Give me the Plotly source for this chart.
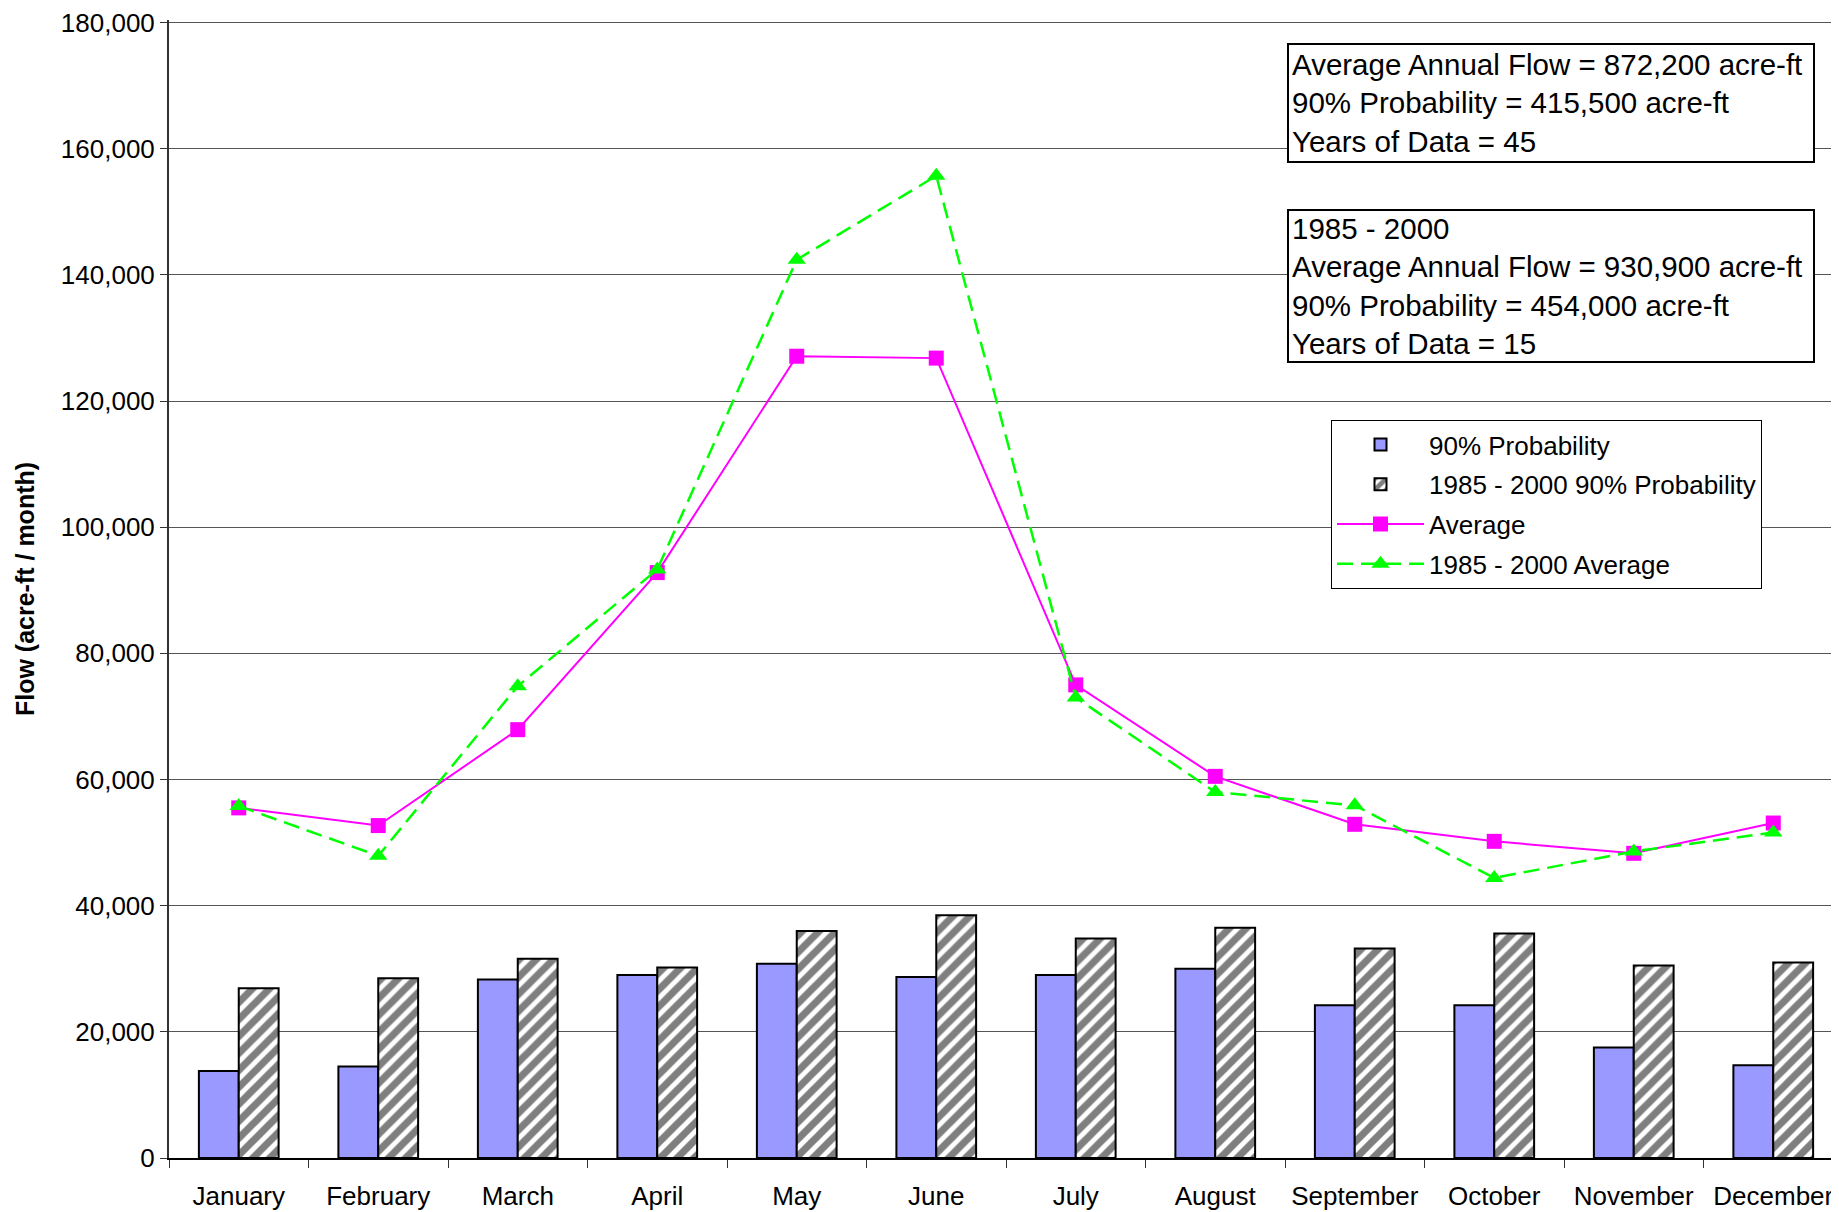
import plotly.graph_objects as go

months = ["January", "February", "March", "April", "May", "June", "July",
          "August", "September", "October", "November", "December"]
prob90 = [13800, 14500, 28300, 29000, 30800, 28700, 29000, 30000, 24200, 24200, 17500, 14700]
prob90_1985_2000 = [26900, 28500, 31600, 30200, 36000, 38500, 34800, 36500, 33200, 35600, 30500, 31000]
average = [55500, 52700, 67900, 92800, 127100, 126800, 75000, 60500, 52900, 50200, 48300, 53100]
average_1985_2000 = [55800, 47900, 74800, 93300, 142400, 155700, 73000, 58000, 55900, 44400, 48600, 51600]
y_ticks = [0, 20000, 40000, 60000, 80000, 100000, 120000, 140000, 160000, 180000]

box1_lines = ["Average Annual Flow = 872,200 acre-ft",
              "90% Probability = 415,500 acre-ft",
              "Years of Data = 45"]
box2_lines = ["1985 - 2000",
              "Average Annual Flow = 930,900 acre-ft",
              "90% Probability = 454,000 acre-ft",
              "Years of Data = 15"]

FONT = "Liberation Sans, Arial, sans-serif"
OFF = 8  # page offset of the figure (body margin)
W, H = 1839 - OFF, 1212 - OFF
ML, MR, MT, MB = 161, 0, 12, 54
PW = W - ML - MR
PH = H - MT - MB
CAT_W = 139.5
Y_MAX = 180400  # a hair above the top tick so its gridline is kept

def px_x(x):
    return (x - OFF - ML) / PW

def px_y(y):
    return (H - MB - (y - OFF)) / PH

fig = go.Figure()
fig.add_trace(go.Bar(
    x=months, y=prob90, name="90% Probability", legendgroup="a",
    marker=dict(color="#9999FF", line=dict(color="black", width=2)),
))
fig.add_trace(go.Bar(
    x=months, y=prob90_1985_2000, name="1985 - 2000 90% Probability", legendgroup="b",
    marker=dict(color="white", line=dict(color="black", width=2),
                pattern=dict(shape="/", fgcolor="black", bgcolor="white",
                             size=12, solidity=0.6)),
))
fig.add_trace(go.Scatter(
    x=months, y=average, name="Average", mode="lines+markers", legendgroup="c",
    line=dict(color="#FF00FF", width=2),
    marker=dict(symbol="square", size=15, color="#FF00FF"),
))
fig.add_trace(go.Scatter(
    x=months, y=average_1985_2000, name="1985 - 2000 Average", mode="lines+markers",
    legendgroup="d",
    line=dict(color="#00FF00", width=2.5, dash="16px,8px"),
    marker=dict(symbol="triangle-up", size=16, color="#00FF00"),
))

fig.add_annotation(
    text="<br>".join(box1_lines), xref="paper", yref="paper",
    x=px_x(1287), y=px_y(43), xanchor="left", yanchor="top",
    showarrow=False, align="left", width=518, height=110, valign="middle",
    bgcolor="white", bordercolor="black", borderwidth=2, borderpad=3,
    font=dict(family=FONT, size=29.5, color="black"),
)
fig.add_annotation(
    text="<br>".join(box2_lines), xref="paper", yref="paper",
    x=px_x(1287), y=px_y(209), xanchor="left", yanchor="top",
    showarrow=False, align="left", width=518, height=144, valign="middle",
    bgcolor="white", bordercolor="black", borderwidth=2, borderpad=3,
    font=dict(family=FONT, size=29.5, color="black"),
)

fig.update_layout(
    width=W, height=H,
    margin=dict(l=ML, r=MR, t=MT, b=MB, autoexpand=False),
    paper_bgcolor="white", plot_bgcolor="white",
    font=dict(family=FONT, size=26, color="black"),
    barmode="group", bargap=0.4286, bargroupgap=0,
    showlegend=True,
    legend=dict(
        x=px_x(1331), y=px_y(420), xanchor="left", yanchor="top",
        bgcolor="white", bordercolor="black", borderwidth=1,
        font=dict(family=FONT, size=26, color="black"),
        traceorder="grouped", tracegroupgap=3, itemwidth=87,
    ),
    xaxis=dict(
        type="category", range=[-0.5, -0.5 + PW / CAT_W],
        showgrid=False, showline=True, linecolor="black", linewidth=2,
        ticks="outside", tickson="boundaries", ticklen=8, tickcolor="#333333",
        tickwidth=1, ticklabelstandoff=14, automargin=False,
        tickfont=dict(family=FONT, size=26, color="black"),
    ),
    yaxis=dict(
        range=[0, Y_MAX], tickmode="array", tickvals=y_ticks,
        ticktext=[f"{v:,}" for v in y_ticks],
        showgrid=True, gridcolor="#555555", gridwidth=1,
        showline=True, linecolor="#333333", linewidth=2,
        ticks="outside", ticklen=7, tickcolor="#333333", tickwidth=1,
        ticklabelstandoff=0, ticklabeloverflow="allow",
        automargin=False, zeroline=False,
        tickfont=dict(family=FONT, size=26, color="black"),
        title=dict(text="<b>Flow (acre-ft / month)</b>", standoff=19,
                   font=dict(family=FONT, size=25, color="black")),
    ),
)

fig.write_html("out.html")
